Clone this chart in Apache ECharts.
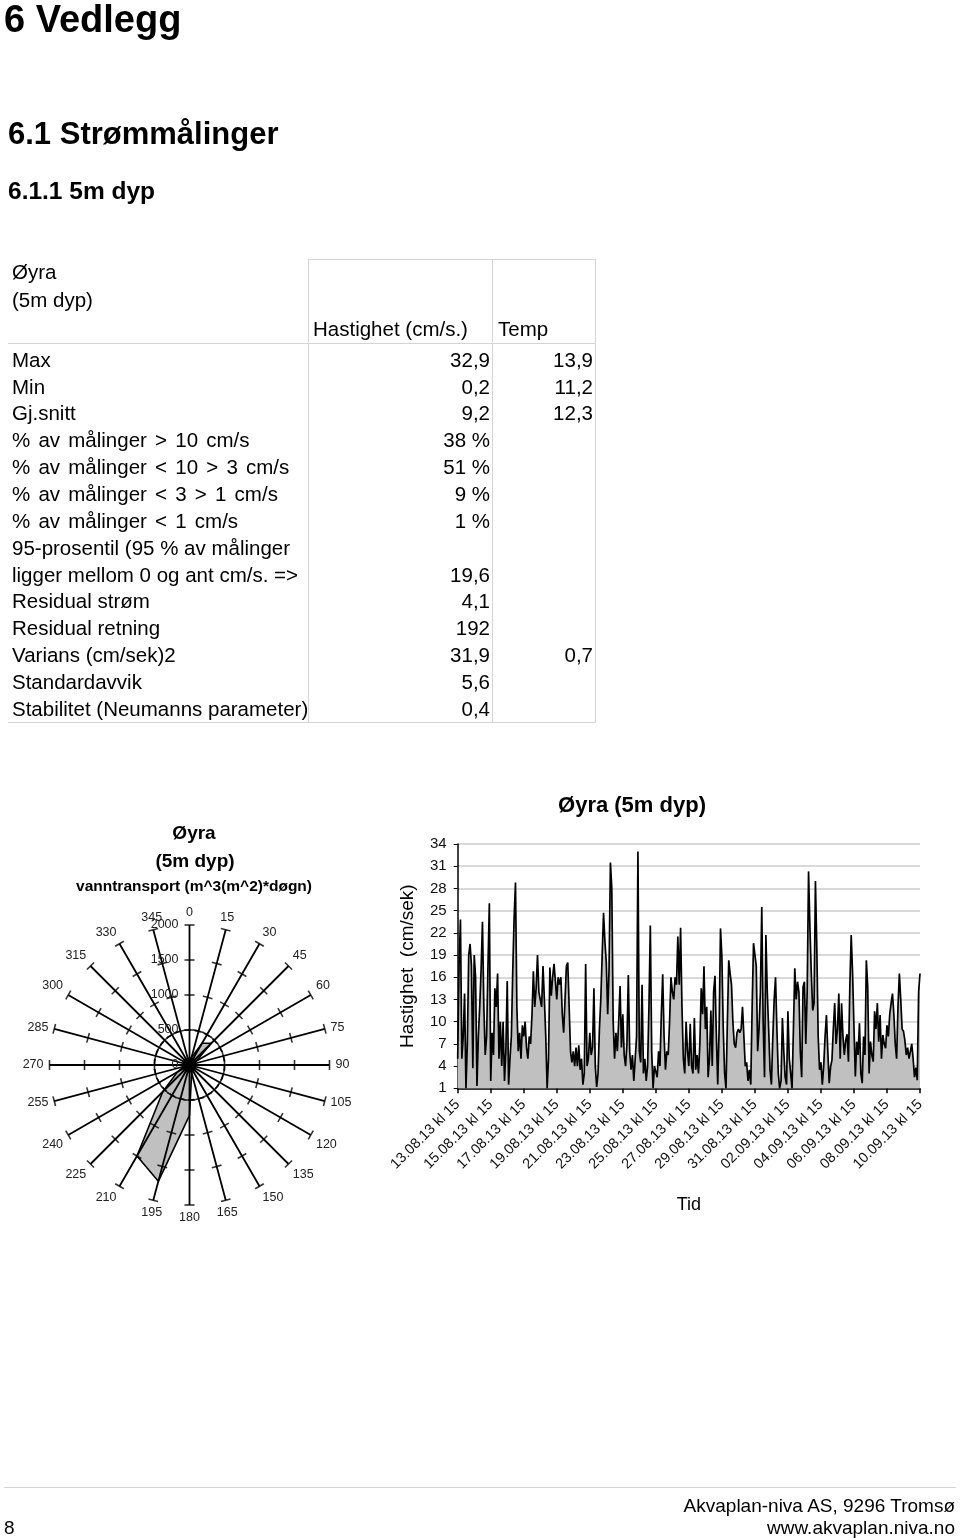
<!DOCTYPE html>
<html>
<head>
<meta charset="utf-8">
<script src="https://cdn.jsdelivr.net/npm/echarts@6/dist/echarts.min.js"></script>
<style>
  html, body { margin: 0; padding: 0; background: #fff; }
  #page { position: relative; width: 960px; height: 1538px; overflow: hidden; font-family: "Liberation Sans", Arial, sans-serif; color: #000; }
  #chart { position: absolute; left: 0; top: 0; width: 960px; height: 1538px; }
  .t { position: absolute; white-space: nowrap; }
  .ln { position: absolute; background: #d4d4d4; }
</style>
</head>
<body>
<div id="page">
  <div id="chart"></div>
</div>
<script>
// ---------------- data ----------------
const tableHeader = ['Øyra', '(5m dyp)'];
const colHeads = ['Hastighet (cm/s.)', 'Temp'];
const rowLabels = ['Max', 'Min', 'Gj.snitt', '% av målinger > 10 cm/s', '% av målinger < 10 > 3 cm/s',
  '% av målinger < 3 > 1 cm/s', '% av målinger < 1 cm/s', '95-prosentil (95 % av målinger',
  'ligger mellom 0 og ant cm/s. =>', 'Residual strøm', 'Residual retning', 'Varians (cm/sek)2',
  'Standardavvik', 'Stabilitet (Neumanns parameter)'];
const hastighet = ['32,9', '0,2', '9,2', '38 %', '51 %', '9 %', '1 %', '', '19,6', '4,1', '192', '31,9', '5,6', '0,4'];
const temp = ['13,9', '11,2', '12,3', '', '', '', '', '', '', '', '', '0,7', '', ''];

// polar plot: direction (degrees) and water transport
const directions = [0, 15, 30, 45, 60, 75, 90, 105, 120, 135, 150, 165, 180, 195, 210, 225, 240, 255, 270, 285, 300, 315, 330, 345];
const transport = [60, 110, 360, 440, 110, 60, 50, 40, 50, 60, 80, 120, 720, 1720, 1500, 540, 200, 80, 50, 40, 40, 40, 40, 40];
const radialTicks = [500, 1000, 1500, 2000];

// time series: current speed (cm/s), 2-hour steps from 13.08.13 kl 15 to 10.09.13 kl 15
const speed = [
  5, 17.7, 23.8, 5, 8, 13.8, 1, 7, 19, 20.5, 17.5, 3.7,
  19, 16, 1.3, 8, 12, 17, 23.5, 12, 5.5, 8, 17.5, 26,
  2, 8.5, 5.5, 14.5, 12, 16.5, 5, 10, 4, 10, 2, 6,
  15.5, 1.5, 5, 8, 16.7, 24, 28.8, 12, 6, 8.5, 5, 9.5,
  8, 10, 6.5, 5, 8, 7, 11, 16.8, 12, 14.5, 19, 14,
  14, 12, 17.5, 13, 8, 1, 5, 17.3, 13.5, 16, 17.8, 15.5,
  13, 16, 15, 16, 11, 8.5, 13, 17.5, 18, 12, 6, 4.5,
  6, 4, 6.5, 4, 6.8, 3.5, 5, 1.5, 3, 17.8, 4, 5,
  8.5, 5.5, 6.5, 14.5, 4, 1.2, 3, 9, 13, 19, 24.7, 20.8,
  18, 11, 17, 31.5, 28, 10, 5, 8.5, 6, 10, 14.8, 6.5,
  11, 5.5, 4, 7, 16.3, 6, 3.5, 5.5, 2, 5, 8, 33,
  6, 4.5, 15, 3, 5, 2, 4, 12, 23, 6, 1, 4,
  4, 2.5, 6, 4, 11, 16.4, 8, 3.5, 6, 5.5, 10, 16,
  14, 13, 16, 15, 21.5, 15, 22.7, 12, 5, 3, 10, 6,
  4, 9.7, 4, 3, 10.5, 3.5, 5.5, 3, 7, 14.5, 11, 17.5,
  9, 12, 2.5, 5, 11.5, 4, 14, 16.2, 8, 1.5, 9, 22.6,
  18.8, 9, 3, 1, 10, 18.3, 16.5, 15, 10, 7, 6.5, 8.5,
  9, 8.5, 9, 12, 8, 4, 4.5, 2, 3.5, 1.5, 12, 20.6,
  20.5, 17.5, 6, 9, 14, 25.5, 10, 2.5, 21.7, 14, 9, 3.5,
  1.5, 7.8, 13, 16, 9, 3, 1, 2, 10.5, 6, 2.5, 1.5,
  11.4, 5, 3, 1, 9, 17.2, 13, 15.4, 14, 6, 2.5, 14.7,
  15.4, 7, 14, 30.3, 22.7, 16.5, 11.5, 12.5, 29, 20, 8, 3.5,
  4.5, 1.5, 4, 8, 10.9, 6, 1.7, 3.9, 4.8, 9, 12.5, 7,
  9, 13.8, 5, 12.5, 8, 5.5, 7.5, 8.3, 4.6, 14.7, 21.7, 16.5,
  9.3, 2.6, 7.3, 5.5, 9.8, 3, 1.7, 8, 5.5, 18.3, 14.7, 3,
  7.3, 5.5, 4.6, 11.4, 9, 12.5, 7.3, 10.9, 5, 8.2, 7, 6.4,
  9.5, 8, 11, 12.5, 13.8, 11, 7, 5, 12, 16.5, 13, 9,
  8.7, 7.5, 5.5, 6.5, 5, 6, 7, 5, 2.5, 3.8, 2.1, 14,
  16.5
];
const stepsPerLabel = 24; // 2 days of 2-hour steps
const timeLabels = ['13.08.13 kl 15', '15.08.13 kl 15', '17.08.13 kl 15', '19.08.13 kl 15', '21.08.13 kl 15',
  '23.08.13 kl 15', '25.08.13 kl 15', '27.08.13 kl 15', '29.08.13 kl 15', '31.08.13 kl 15',
  '02.09.13 kl 15', '04.09.13 kl 15', '06.09.13 kl 15', '08.09.13 kl 15', '10.09.13 kl 15'];
const yTicks = { min: 1, max: 34, interval: 3 };

// ---------------- HTML text (document) ----------------
const page = document.getElementById('page');
function txt(s, x, yc, size, opts) {
  opts = opts || {};
  const d = document.createElement('div');
  d.className = 't';
  d.textContent = s;
  d.style.fontSize = size + 'px';
  d.style.lineHeight = size + 'px';
  d.style.top = (yc - size * 0.5) + 'px';
  if (opts.bold) d.style.fontWeight = 'bold';
  if (opts.ls) d.style.letterSpacing = opts.ls + 'px';
  if (opts.ws) d.style.wordSpacing = opts.ws + 'px';
  if (opts.right != null) { d.style.right = (960 - opts.right) + 'px'; d.style.textAlign = 'right'; }
  else d.style.left = x + 'px';
  page.appendChild(d);
}
function line(x, y, w, h) {
  const d = document.createElement('div');
  d.className = 'ln';
  d.style.left = x + 'px'; d.style.top = y + 'px'; d.style.width = w + 'px'; d.style.height = h + 'px';
  page.appendChild(d);
}
txt('6 Vedlegg', 4, 19, 38, { bold: true });
txt('6.1 Strømmålinger', 8, 133, 31, { bold: true });
txt('6.1.1 5m dyp', 8, 191, 24.5, { bold: true });

// table grid
line(308, 259, 288, 1);
line(308, 259, 1, 464);
line(492, 259, 1, 464);
line(595, 259, 1, 464);
line(8, 722, 588, 1);
line(8, 343, 588, 1);

txt(tableHeader[0], 12, 272, 20.5);
txt(tableHeader[1], 12, 300, 20.5);
txt(colHeads[0], 313, 329, 20.5);
txt(colHeads[1], 498, 329, 20.5);
rowLabels.forEach(function (lab, i) {
  const yc = 360 + i * 26.85;
  const pct = lab.charAt(0) === '%';
  txt(lab, 12, yc, 20.5, pct ? { ws: 2.5 } : {});
  if (hastighet[i]) txt(hastighet[i], 0, yc, 20.5, { right: 490 });
  if (temp[i]) txt(temp[i], 0, yc, 20.5, { right: 593 });
});

// footer
line(4, 1487, 952, 1);
txt('Akvaplan-niva AS, 9296 Tromsø', 0, 1505, 19, { right: 955 });
txt('www.akvaplan.niva.no', 0, 1527, 19, { right: 955 });
txt('8', 4, 1527, 19);

// ---------------- ECharts ----------------
const chart = echarts.init(document.getElementById('chart'), null, { width: 960, height: 1538 });
const FONT = 'Liberation Sans';
const categories = speed.map(function (v, i) { return i; });
const polygon = directions.map(function (a, i) { return [transport[i], a]; });
polygon.push([transport[0], 360]);
const tickMarks = [];
directions.forEach(function (a) { radialTicks.forEach(function (r) { tickMarks.push([r, a]); }); });

const option = {
  animation: false,
  title: [
    { text: 'Øyra (5m dyp)', left: 632, top: 806, textAlign: 'center', textVerticalAlign: 'middle', padding: 0,
      textStyle: { fontFamily: FONT, fontSize: 22, fontWeight: 'bold', color: '#000' } },
    { text: 'Øyra', left: 194, top: 834, textAlign: 'center', textVerticalAlign: 'middle', padding: 0,
      textStyle: { fontFamily: FONT, fontSize: 19, fontWeight: 'bold', color: '#000' } },
    { text: '(5m dyp)', left: 195, top: 862, textAlign: 'center', textVerticalAlign: 'middle', padding: 0,
      textStyle: { fontFamily: FONT, fontSize: 19, fontWeight: 'bold', color: '#000' } },
    { text: 'vanntransport (m^3(m^2)*døgn)', left: 194, top: 887, textAlign: 'center', textVerticalAlign: 'middle', padding: 0,
      textStyle: { fontFamily: FONT, fontSize: 15.5, fontWeight: 'bold', color: '#000' } }
  ],
  polar: { center: [189.5, 1065], radius: 140 },
  angleAxis: {
    type: 'value', min: 0, max: 360, interval: 15, startAngle: 90, clockwise: true, z: 5,
    axisLine: { show: false }, axisTick: { show: false },
    splitLine: { show: true, lineStyle: { color: '#000', width: 1.8 } },
    axisLabel: { show: true, margin: 6, fontFamily: FONT, fontSize: 12.5, color: '#222' }
  },
  radiusAxis: {
    type: 'value', min: 0, max: 2000, interval: 500, z: 5,
    axisLine: { show: false }, axisTick: { show: false },
    axisLabel: { show: true, fontFamily: FONT, fontSize: 12.5, color: '#222', align: 'right', margin: 11,
      formatter: function (v) { return String(v); } },
    splitLine: { show: true, lineStyle: { color: ['rgba(0,0,0,0)', '#000', 'rgba(0,0,0,0)', 'rgba(0,0,0,0)', 'rgba(0,0,0,0)'], type: [6, 4], width: 1.6 } }
  },
  grid: { left: 457.7, top: 844, width: 462.3, height: 244.3 },
  xAxis: {
    type: 'category', data: categories, boundaryGap: false,
    name: 'Tid', nameLocation: 'middle', nameGap: 108,
    nameTextStyle: { fontFamily: FONT, fontSize: 18, color: '#000' },
    axisLine: { lineStyle: { color: '#000', width: 1.5 } },
    axisTick: { show: true, interval: stepsPerLabel - 1, length: 5, lineStyle: { color: '#000', width: 1.5 } },
    axisLabel: {
      interval: stepsPerLabel - 1, rotate: 45, margin: 14, fontFamily: FONT, fontSize: 14.5, color: '#111',
      formatter: function (v, idx) { return timeLabels[Math.round(idx / stepsPerLabel)]; }
    },
    splitLine: { show: false }
  },
  yAxis: {
    type: 'value', min: yTicks.min, max: yTicks.max, interval: yTicks.interval,
    name: 'Hastighet  (cm/sek)', nameLocation: 'middle', nameGap: 40,
    nameTextStyle: { fontFamily: FONT, fontSize: 19, color: '#000' },
    axisLine: { show: true, lineStyle: { color: '#000', width: 1.5 } },
    axisTick: { show: true, length: 4, lineStyle: { color: '#000' } },
    axisLabel: { margin: 11, fontFamily: FONT, fontSize: 15, color: '#111' },
    splitLine: { show: true, lineStyle: { color: '#d9d9d9', width: 2 } }
  },
  series: [
    {
      type: 'line', coordinateSystem: 'polar', data: polygon, symbol: 'none', z: 2,
      lineStyle: { color: '#000', width: 1.6 }, areaStyle: { color: '#c0c0c0', opacity: 1 }
    },
    {
      type: 'scatter', coordinateSystem: 'polar', data: tickMarks, symbol: 'rect', symbolSize: [10, 1.6], z: 6,
      symbolRotate: function (v) { return -v[1]; },
      itemStyle: { color: '#000' }, silent: true
    },
    {
      type: 'line', xAxisIndex: 0, yAxisIndex: 0, data: speed, symbol: 'none',
      lineStyle: { color: '#000', width: 1.7 }, areaStyle: { color: '#c0c0c0', opacity: 1 }
    }
  ]
};
chart.setOption(option);
</script>
</body>
</html>
